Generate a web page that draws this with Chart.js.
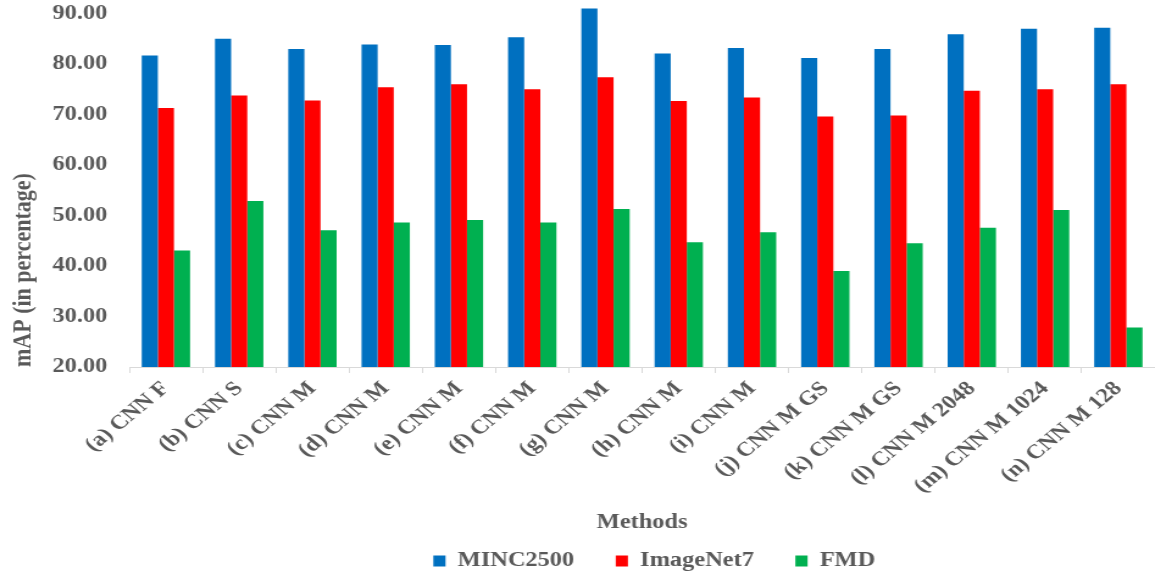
<!DOCTYPE html>
<html>
<head>
<meta charset="utf-8">
<script src="https://cdn.jsdelivr.net/npm/chart.js@4/dist/chart.umd.min.js"></script>
<style>
  html, body { margin: 0; padding: 0; background: #fff; overflow: hidden; }
  /* the original figure is stretched sideways, so draw narrow and stretch */
  #wrap { width: 947px; height: 576px; transform: scaleX(1.2196); transform-origin: 0 0; }
</style>
</head>
<body>
<div id="wrap"><canvas id="chart"></canvas></div>
<script>
// methods on the x axis
const methods = ['(a) CNN F', '(b) CNN S', '(c) CNN M', '(d) CNN M', '(e) CNN M', '(f) CNN M', '(g) CNN M',
    '(h) CNN M', '(i) CNN M', '(j) CNN M GS', '(k) CNN M GS', '(l) CNN M 2048', '(m) CNN M 1024', '(n) CNN M 128'];

// mAP values
const minc2500 = [81.7, 85.0, 83.0, 83.9, 83.8, 85.3, 91.0, 82.1, 83.2, 81.2, 83.0, 85.9, 87.0, 87.2];
const imageNet7 = [71.3, 73.8, 72.8, 75.4, 76.0, 75.0, 77.4, 72.7, 73.4, 69.6, 69.8, 74.7, 75.0, 76.0];
const fmd = [43.1, 52.9, 47.1, 48.6, 49.1, 48.6, 51.3, 44.7, 46.7, 39.0, 44.5, 47.6, 51.1, 27.8];

const yMin = 20;
const yStep = 10;

const serif = "'Liberation Serif', 'Times New Roman', serif";
const grey = '#595959';

// move the legend under the plot area and tighten its height
const legendPlace = {
    id: 'legendPlace',
    afterInit(chart) {
        const fit = chart.legend.fit;
        chart.legend.fit = function () {
            fit.call(this);
            this.height = 30;
        };
    },
    afterLayout(chart) {
        const lg = chart.legend;
        lg.left += 63;
        lg.right += 63;
        lg.top = 517;
        lg.bottom = 576;
    }
};

const ctx = document.getElementById('chart').getContext('2d');

new Chart(ctx, {
    type: 'bar',
    data: {
        labels: methods,
        datasets: [
            { label: 'MINC2500', data: minc2500, backgroundColor: '#0070C0', borderWidth: 0 },
            { label: 'ImageNet7', data: imageNet7, backgroundColor: '#FF0000', borderWidth: 0 },
            { label: 'FMD', data: fmd, backgroundColor: '#00B050', borderWidth: 0 }
        ]
    },
    plugins: [legendPlace],
    options: {
        responsive: true,
        maintainAspectRatio: false,
        animation: false,
        layout: { padding: 0 },
        datasets: {
            bar: { categoryPercentage: 0.66, barPercentage: 1.0 }
        },
        plugins: {
            tooltip: { enabled: false },
            legend: {
                position: 'bottom',
                labels: {
                    boxWidth: 10,
                    boxHeight: 11,
                    padding: 34,
                    color: grey,
                    font: { family: serif, size: 20, weight: 'bold' }
                }
            }
        },
        scales: {
            x: {
                grid: {
                    offset: true,
                    drawOnChartArea: false,
                    drawTicks: true,
                    tickLength: 6,
                    color: '#d9d9d9'
                },
                border: { display: true, color: '#d9d9d9', width: 1 },
                ticks: {
                    autoSkip: false,
                    minRotation: 45,
                    maxRotation: 45,
                    padding: 4,
                    color: grey,
                    font: { family: serif, size: 20, weight: 'bold' }
                },
                title: {
                    display: true,
                    text: 'Methods',
                    color: grey,
                    padding: { top: 0, bottom: 11 },
                    font: { family: serif, size: 20, weight: 'bold' }
                },
                afterFit(scale) {
                    scale.height = 179;
                    scale.paddingLeft = 0;
                    scale.paddingRight = 0;
                }
            },
            y: {
                min: yMin,
                max: 92.7,
                grid: {
                    display: true,
                    drawOnChartArea: false,
                    drawTicks: true,
                    tickLength: 15,
                    color: 'rgba(0,0,0,0)'
                },
                border: { display: false },
                ticks: {
                    stepSize: yStep,
                    includeBounds: false,
                    padding: 3,
                    color: grey,
                    font: { family: serif, size: 20, weight: 'bold', lineHeight: 1 },
                    callback: (v) => v.toFixed(2)
                },
                title: {
                    display: true,
                    text: 'mAP (in percentage)',
                    align: 'start',
                    color: grey,
                    padding: { top: 6, bottom: 0 },
                    font: { family: serif, size: 22, weight: 'bold' }
                },
                afterFit(scale) {
                    scale.width = 106;
                    scale.paddingTop = 0;
                    scale.paddingBottom = 0;
                }
            }
        }
    }
});
</script>
</body>
</html>
